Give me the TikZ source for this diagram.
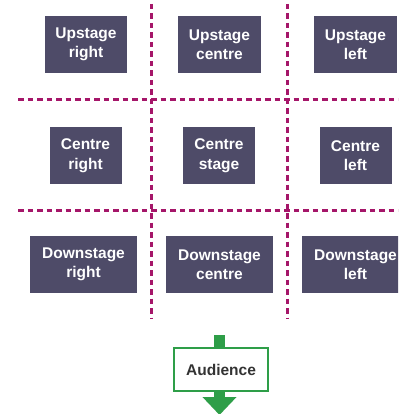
\documentclass[tikz,border=0pt]{standalone}
\usepackage{fontspec}
\setmainfont{Liberation Sans}
\usetikzlibrary{arrows.meta}
\definecolor{boxfill}{RGB}{78,75,104}
\definecolor{gridred}{RGB}{165,22,105}
\definecolor{audgreen}{RGB}{46,158,72}
\tikzset{
  stagebox/.style={fill=boxfill, text=white, align=center, inner sep=0pt,
    minimum height=57pt, font=\fontsize{15.5}{19.5}\selectfont\bfseries},
  stageline/.style={draw=gridred, line width=3pt, dash pattern=on 5.5pt off 4pt},
}
\begin{document}
\begin{tikzpicture}[x=1pt,y=-1pt]
      \useasboundingbox (0,0) rectangle (398,414);
      \begin{scope}
        \clip (0,0) rectangle (398,414);
        % grid of the stage
        \draw[stageline] (151,4) -- (151,318);
        \draw[stageline] (287,4) -- (287,318);
        \draw[stageline] (18,100) -- (398,100);
        \draw[stageline] (18,210) -- (398,210);
        % areas
        \node[stagebox, minimum width=82pt] (UR) at (86,44.5) {Upstage\\right};
        \node[stagebox, minimum width=83pt] (UC) at (219.5,44.5) {Upstage\\centre};
        \node[stagebox, minimum width=83pt] (UL) at (355.5,44.5) {Upstage\\left};
        \node[stagebox, minimum width=72pt] (CR) at (85.5,155.5) {Centre\\right};
        \node[stagebox, minimum width=72pt] (CS) at (219,155.5) {Centre\\stage};
        \node[stagebox, minimum width=72pt] (CL) at (355.5,155.5) {Centre\\left};
        \node[stagebox, minimum width=107pt] (DR) at (83.5,264.5) {Downstage\\right};
        \node[stagebox, minimum width=107pt] (DC) at (219.5,264.5) {Downstage\\centre};
        \node[stagebox, minimum width=107pt] (DL) at (355.5,264.5) {Downstage\\left};
        % audience
        \coordinate (front) at (219.5,335);
        \coordinate (tip) at (219.5,415);
        \node[draw=audgreen, line width=2pt, fill=white, text=black!80,
          minimum width=94pt, minimum height=43pt, inner sep=0pt,
          font=\fontsize{15.5}{18}\selectfont\bfseries] (aud) at (221,369.5) {Audience};
        \draw[audgreen, line width=11pt] (front) -- (aud.north -| front);
        \draw[audgreen, line width=11pt, -{Triangle[width=33pt,length=18pt]}]
          (aud.south -| front) -- (tip);
      \end{scope}
    \end{tikzpicture}
\end{document}
